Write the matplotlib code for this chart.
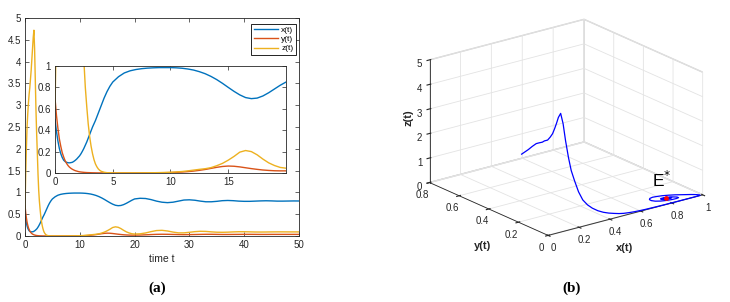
import matplotlib
matplotlib.use('Agg')
import matplotlib.pyplot as plt

plt.rcParams['font.family'] = ['Liberation Sans', 'DejaVu Sans']
plt.rcParams['grid.color'] = '#e3e3e3'
plt.rcParams['grid.linewidth'] = 0.6

# time samples
t = [0, 0.125, 0.25, 0.375, 0.5, 0.625, 0.75, 0.875, 1.0, 1.125, 1.25, 1.375, 1.5, 1.625,
     1.75, 1.875, 2.0, 2.125, 2.25, 2.375, 2.5, 2.625, 2.75, 2.875, 3.0, 3.125, 3.25,
     3.375, 3.5, 3.625, 3.75, 3.875, 4.0, 4.25, 4.5, 4.75, 5.0,
     5.5, 6, 6.5, 7, 7.5, 8, 8.5, 9, 9.5, 10, 10.5, 11, 11.5, 12, 12.5, 13, 13.5, 14, 14.5,
     15, 15.5, 16, 16.5, 17, 17.5, 18, 18.5, 19, 19.5, 20,
     21, 22, 23, 24, 25, 26, 27, 28, 29, 30, 31, 32, 33, 34, 35, 36, 37, 38, 39, 40,
     41, 42, 43, 44, 45, 46, 47, 48, 49, 50]

x_t = [0.50, 0.39, 0.30, 0.23, 0.18, 0.145, 0.12, 0.107, 0.10, 0.096, 0.095, 0.097, 0.10,
       0.108, 0.118, 0.13, 0.145, 0.16, 0.18, 0.204, 0.23, 0.26, 0.29, 0.325, 0.36, 0.395,
       0.43, 0.46, 0.49, 0.525, 0.56, 0.595, 0.63, 0.70, 0.76, 0.81, 0.85,
       0.90, 0.935, 0.955, 0.967, 0.975, 0.98, 0.983, 0.985, 0.985, 0.985, 0.983, 0.979,
       0.972, 0.962, 0.947, 0.928, 0.903, 0.873, 0.838, 0.80, 0.763, 0.73, 0.705, 0.695,
       0.70, 0.72, 0.75, 0.785, 0.82, 0.85,
       0.865, 0.86, 0.835, 0.80, 0.775, 0.765, 0.775, 0.80, 0.825, 0.83, 0.82, 0.80, 0.785,
       0.785, 0.795, 0.81, 0.815, 0.81, 0.80, 0.795, 0.795, 0.80, 0.805, 0.808, 0.805,
       0.80, 0.80, 0.802, 0.804, 0.803]

y_t = [0.70, 0.54, 0.42, 0.32, 0.25, 0.19, 0.15, 0.115, 0.09, 0.07, 0.055, 0.044, 0.035,
       0.028, 0.022, 0.018, 0.014, 0.011, 0.009, 0.0075, 0.006, 0.005, 0.004, 0.0035, 0.003,
       0.0025, 0.002, 0.0018, 0.0015, 0.0012, 0.001, 0.001, 0.001, 0.0008, 0.0006, 0.0005,
       0.0004,
       0.0004, 0.0004, 0.0005, 0.0006, 0.0008, 0.001, 0.0015, 0.002, 0.003, 0.004, 0.006,
       0.009, 0.013, 0.018, 0.025, 0.033, 0.043, 0.053, 0.061, 0.065, 0.063, 0.057, 0.049,
       0.041, 0.034, 0.028, 0.024, 0.021, 0.02, 0.02,
       0.022, 0.027, 0.033, 0.038, 0.04, 0.039, 0.036, 0.033, 0.031, 0.032, 0.034, 0.037,
       0.039, 0.039, 0.037, 0.035, 0.035, 0.036, 0.037, 0.038, 0.038, 0.037, 0.036, 0.036,
       0.037, 0.037, 0.037, 0.037, 0.037, 0.037]

z_t = [0.6, 1.4, 2.0, 2.5, 2.8, 3.05, 3.25, 3.4, 3.6, 3.8, 4.05, 4.3, 4.55, 4.72, 4.3, 3.6,
       2.9, 2.35, 1.9, 1.42, 1.05, 0.8, 0.62, 0.46, 0.34, 0.25, 0.18, 0.125, 0.085, 0.058,
       0.038, 0.025, 0.016, 0.007, 0.003, 0.002, 0.001,
       0.0008, 0.0007, 0.0008, 0.001, 0.0013, 0.0018, 0.0025, 0.0035, 0.005, 0.007, 0.01,
       0.014, 0.02, 0.027, 0.034, 0.04, 0.05, 0.068, 0.09, 0.12, 0.155, 0.195, 0.21, 0.2,
       0.17, 0.13, 0.095, 0.07, 0.052, 0.045,
       0.05, 0.07, 0.1, 0.125, 0.13, 0.115, 0.09, 0.072, 0.072, 0.085, 0.1, 0.108, 0.105,
       0.095, 0.087, 0.085, 0.088, 0.094, 0.098, 0.098, 0.095, 0.092, 0.091, 0.092, 0.094,
       0.095, 0.095, 0.094, 0.094, 0.094]

E_star = (0.8, 0.037, 0.094)

c_x = '#0072BD'
c_y = '#D95319'
c_z = '#EDB120'
tick_col = '#262626'

fig = plt.figure(figsize=(7.3, 3.02), dpi=100)

# (a) time series
ax = fig.add_axes([25/730, 1 - 236/302, 274/730, 218/302])
ax.plot(t, x_t, color=c_x, lw=1.0, label='x(t)')
ax.plot(t, y_t, color=c_y, lw=1.0, label='y(t)')
ax.plot(t, z_t, color=c_z, lw=1.0, label='z(t)')
ax.set_xlim(0, 50)
ax.set_ylim(0, 5)
ax.set_xticks([0, 10, 20, 30, 40, 50])
ax.set_yticks([0, 0.5, 1, 1.5, 2, 2.5, 3, 3.5, 4, 4.5, 5])
ax.set_yticklabels(['0', '0.5', '1', '1.5', '2', '2.5', '3', '3.5', '4', '4.5', '5'])
ax.tick_params(direction='in', top=True, right=True, length=3, width=0.5,
               labelsize=7, colors=tick_col, pad=3)
for s in ax.spines.values():
    s.set_color(tick_col)
    s.set_linewidth(0.6)
ax.set_xlabel('time t', fontsize=7.5, color=tick_col, labelpad=3)
leg = ax.legend(loc='upper right', bbox_to_anchor=(296/730, 1 - 24/302),
                bbox_transform=fig.transFigure, borderaxespad=0, fontsize=6,
                fancybox=False, edgecolor='black', framealpha=1,
                handlelength=2.9, handletextpad=0.4, labelspacing=0.15,
                borderpad=0.3)
leg.get_frame().set_linewidth(0.6)

# inset
axi = fig.add_axes([55/730, 1 - 173/302, 231/730, 107/302])
axi.plot(t, x_t, color=c_x, lw=1.0)
axi.plot(t, y_t, color=c_y, lw=1.0)
axi.plot(t, z_t, color=c_z, lw=1.0)
axi.set_xlim(0, 20)
axi.set_ylim(0, 1)
axi.set_xticks([0, 5, 10, 15])
axi.set_yticks([0, 0.2, 0.4, 0.6, 0.8, 1])
axi.set_yticklabels(['0', '0.2', '0.4', '0.6', '0.8', '1'])
axi.tick_params(direction='in', top=True, right=True, length=3, width=0.5,
                labelsize=7, colors=tick_col, pad=3)
for s in axi.spines.values():
    s.set_color(tick_col)
    s.set_linewidth(0.6)

# (b) phase portrait
ax3 = fig.add_axes([0.54, 0.075, 0.46, 0.98], projection='3d')
ax3.set_proj_type('ortho')
ax3.view_init(elev=20, azim=-127.5)
ax3.set_box_aspect((1, 1, 0.67), zoom=1.0)
ax3.plot(x_t, y_t, z_t, color='blue', lw=0.9)
ax3.scatter([E_star[0]], [E_star[1]], [E_star[2]], color='red', s=6, depthshade=False)
ax3.set_xlim(0, 1)
ax3.set_ylim(0, 0.8)
ax3.set_zlim(0, 5)
ax3.set_xticks([0, 0.2, 0.4, 0.6, 0.8, 1])
ax3.set_xticklabels(['0', '0.2', '0.4', '0.6', '0.8', '1'])
ax3.set_yticks([0, 0.2, 0.4, 0.6, 0.8])
ax3.set_yticklabels(['0', '0.2', '0.4', '0.6', '0.8'])
ax3.set_zticks([0, 1, 2, 3, 4, 5])
for axis in (ax3.xaxis, ax3.yaxis, ax3.zaxis):
    axis.set_pane_color((1, 1, 1, 1))
    axis.pane.set_edgecolor('#d0d0d0')
    axis.line.set_color(tick_col)
    axis.line.set_linewidth(0.6)
ax3.tick_params(labelsize=7, colors=tick_col, pad=-3)
ax3.tick_params(axis='z', pad=-4)

# axis labels and E* placed in figure pixels
fig.text(409/730, 1 - 118/302, 'z(t)', fontsize=8, fontweight='bold', rotation=90,
         ha='center', va='center', color=tick_col)
fig.text(482/730, 1 - 246/302, 'y(t)', fontsize=8, fontweight='bold',
         ha='center', va='center', color=tick_col)
fig.text(625/730, 1 - 248/302, 'x(t)', fontsize=8, fontweight='bold',
         ha='center', va='center', color=tick_col)
fig.text(662/730, 1 - 180/302, r'E$^{*}$', fontsize=12.5, ha='center', va='center')

fig.text(157/730, 1 - 288/302, '(a)', family='Liberation Serif', fontweight='bold',
         fontsize=11, ha='center', va='center')
fig.text(572/730, 1 - 288/302, '(b)', family='Liberation Serif', fontweight='bold',
         fontsize=11, ha='center', va='center')

fig.savefig('out.png', dpi=100)
